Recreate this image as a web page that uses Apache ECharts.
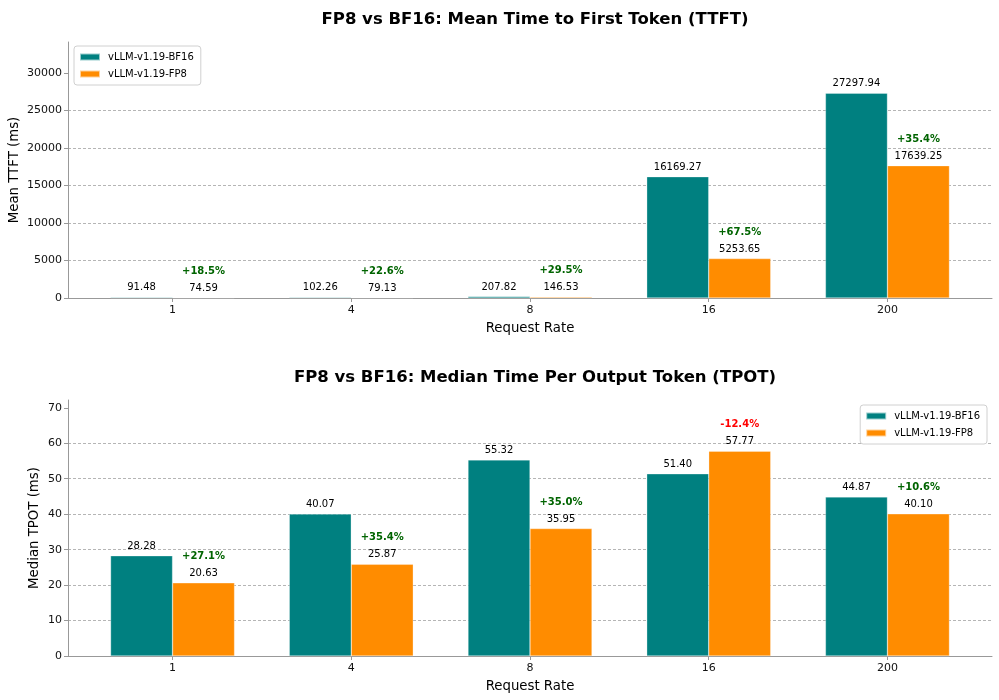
<!DOCTYPE html>
<html>
<head>
<meta charset="utf-8">
<script src="https://cdn.jsdelivr.net/npm/echarts@6/dist/echarts.min.js"></script>
<style>html,body{margin:0;padding:0;background:#fff}#c{width:999px;height:700px}</style>
</head>
<body>
<div id="c"></div>
<script>
const categories = ['1', '4', '8', '16', '200'];
const ttftBF16 = [91.48, 102.26, 207.82, 16169.27, 27297.94];
const ttftFP8 = [74.59, 79.13, 146.53, 5253.65, 17639.25];
const ttftPct = ['+18.5%', '+22.6%', '+29.5%', '+67.5%', '+35.4%'];
const tpotBF16 = [28.28, 40.07, 55.32, 51.40, 44.87];
const tpotFP8 = [20.63, 25.87, 35.95, 57.77, 40.10];
const tpotPct = ['+27.1%', '+35.4%', '+35.0%', '-12.4%', '+10.6%'];
const ttftTicks = [0, 5000, 10000, 15000, 20000, 25000, 30000];
const tpotTicks = [0, 10, 20, 30, 40, 50, 60, 70];
const seriesNames = ['vLLM-v1.19-BF16', 'vLLM-v1.19-FP8'];

const FONT = 'DejaVu Sans';
const TEAL = '#008080', ORANGE = '#FF8C00';
const catIdx = categories.map((_, i) => i);

function pair(arr) { return arr.map((v, i) => [i, v]); }

function xAxisDef(gridIndex) {
  return {
    type: 'value', gridIndex, min: -0.585, max: 4.585,
    name: 'Request Rate', nameLocation: 'middle', nameGap: 24, nameMoveOverlap: false,
    nameTextStyle: { fontFamily: FONT, fontSize: 13.3, color: '#000' },
    axisLine: { show: true, onZero: false, lineStyle: { color: '#999', width: 1 } },
    axisTick: { show: true, customValues: catIdx, length: 4, lineStyle: { color: '#999' } },
    axisLabel: { customValues: catIdx, formatter: v => categories[Math.round(v)], fontFamily: FONT, fontSize: 11, color: '#111', margin: 7 },
    splitLine: { show: false }
  };
}
function yAxisDef(gridIndex, max, interval, ticks, name, gap) {
  return {
    type: 'value', gridIndex, min: 0, max, interval,
    name, nameLocation: 'middle', nameGap: gap, nameMoveOverlap: false,
    nameTextStyle: { fontFamily: FONT, fontSize: 13.3, color: '#000' },
    axisLine: { show: true, onZero: false, lineStyle: { color: '#999', width: 1 } },
    axisTick: { show: true, customValues: ticks, length: 4, lineStyle: { color: '#999' } },
    axisLabel: { customValues: ticks, formatter: v => String(v), fontFamily: FONT, fontSize: 11, color: '#111', margin: 6 },
    splitLine: { show: true, showMinLine: false, showMaxLine: false, lineStyle: { color: '#b5b5b5', type: [3, 2], width: 1 } }
  };
}
function bfSeries(idx, data) {
  return {
    name: seriesNames[0], type: 'bar', xAxisIndex: idx, yAxisIndex: idx,
    data: pair(data), barWidth: 62, barGap: '0%',
    itemStyle: { color: TEAL, borderColor: 'rgba(255,255,255,0.6)', borderWidth: 0.5 },
    label: { show: true, position: 'top', distance: 1, lineHeight: 17, fontFamily: FONT, fontSize: 10, color: '#000',
      formatter: p => data[p.dataIndex].toFixed(2) }
  };
}
function fpSeries(idx, data, pct) {
  return {
    name: seriesNames[1], type: 'bar', xAxisIndex: idx, yAxisIndex: idx,
    data: pair(data), barWidth: 62, barGap: '0%',
    itemStyle: { color: ORANGE, borderColor: 'rgba(255,255,255,0.6)', borderWidth: 0.5 },
    label: { show: true, position: 'top', distance: 1, fontFamily: FONT, fontSize: 10, color: '#000',
      formatter: p => {
        const s = pct[p.dataIndex];
        const key = s.startsWith('-') ? 'n' : 'p';
        return '{' + key + '|' + s + '}\n{v|' + data[p.dataIndex].toFixed(2) + '}';
      },
      rich: {
        p: { fontFamily: FONT, fontSize: 10, fontWeight: 'bold', color: '#006400', lineHeight: 17 },
        n: { fontFamily: FONT, fontSize: 10, fontWeight: 'bold', color: '#FF0000', lineHeight: 17 },
        v: { fontFamily: FONT, fontSize: 10, color: '#000', lineHeight: 17 }
      }
    }
  };
}
function legendDef(pos) {
  return Object.assign({
    orient: 'vertical', data: seriesNames,
    itemWidth: 20, itemHeight: 7, itemGap: 7,
    padding: [6, 7, 6, 5],
    borderColor: '#d0d0d0', borderWidth: 1, borderRadius: 3, backgroundColor: '#fff',
    textStyle: { fontFamily: FONT, fontSize: 10, color: '#000', padding: [0, 0, 0, 3] },
    icon: 'rect'
  }, pos);
}

const chart = echarts.init(document.getElementById('c'), null, { renderer: 'canvas' });
chart.setOption({
  animation: false,
  backgroundColor: '#fff',
  title: [
    { text: 'FP8 vs BF16: Mean Time to First Token (TTFT)', left: 530, textAlign: 'center', top: 6,
      textStyle: { fontFamily: FONT, fontSize: 16.5, fontWeight: 'bold', color: '#000' } },
    { text: 'FP8 vs BF16: Median Time Per Output Token (TPOT)', left: 530, textAlign: 'center', top: 364,
      textStyle: { fontFamily: FONT, fontSize: 16.5, fontWeight: 'bold', color: '#000' } }
  ],
  legend: [
    legendDef({ left: 74, top: 46 }),
    legendDef({ right: 12, top: 405 })
  ],
  grid: [
    { left: 68, right: 7, top: 42, height: 256, containLabel: false, outerBoundsMode: 'none' },
    { left: 68, right: 7, top: 400, height: 256, containLabel: false, outerBoundsMode: 'none' }
  ],
  xAxis: [xAxisDef(0), xAxisDef(1)],
  yAxis: [
    yAxisDef(0, 34122.4, 5000, ttftTicks, 'Mean TTFT (ms)', 47),
    yAxisDef(1, 72.21, 10, tpotTicks, 'Median TPOT (ms)', 27)
  ],
  series: [
    bfSeries(0, ttftBF16), fpSeries(0, ttftFP8, ttftPct),
    bfSeries(1, tpotBF16), fpSeries(1, tpotFP8, tpotPct)
  ]
});
</script>
</body>
</html>
